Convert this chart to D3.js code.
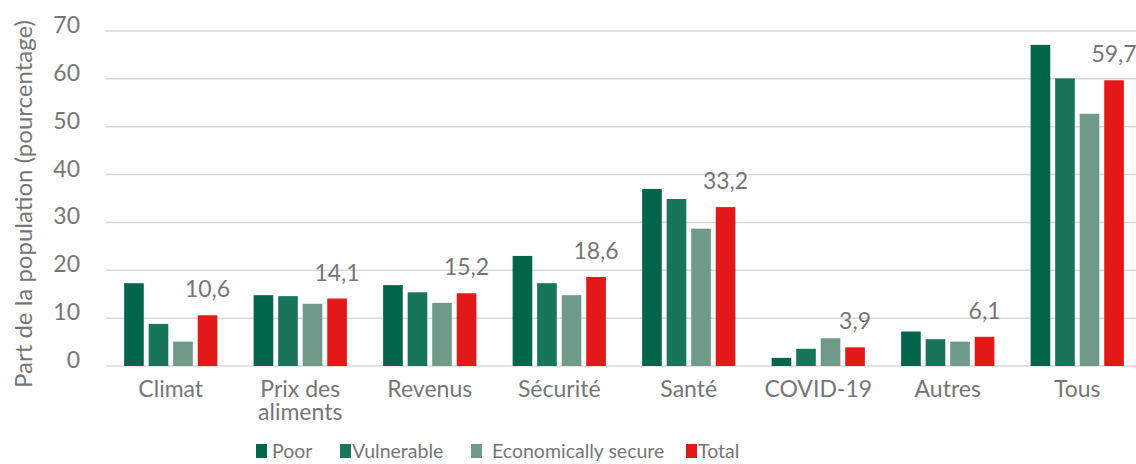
<!DOCTYPE html>
<html lang="fr">
<head>
  <meta charset="UTF-8">
  <title>Part de la population</title>
  <script src="https://d3js.org/d3.v7.min.js"></script>
  <style>
    body { margin: 0; background: #fff; }
    text { font-family: Lato, "Open Sans", sans-serif; fill: #767676; }
  </style>
</head>
<body>
  <svg width="1136" height="464"></svg>

  <script>
    // Data
    const categories = ['Climat', 'Prix des|aliments', 'Revenus', 'Sécurité', 'Santé', 'COVID-19', 'Autres', 'Tous'];
    const series = ['Poor', 'Vulnerable', 'Economically secure', 'Total'];
    const poor = [17.3, 14.8, 16.9, 23.0, 37.0, 1.7, 7.2, 67.1];
    const vulnerable = [8.8, 14.6, 15.4, 17.3, 34.9, 3.6, 5.6, 60.1];
    const secure = [5.1, 13.0, 13.2, 14.8, 28.7, 5.8, 5.1, 52.7];
    const total = [10.6, 14.1, 15.2, 18.6, 33.2, 3.9, 6.1, 59.7];
    const yTicks = [0, 10, 20, 30, 40, 50, 60, 70];
    const colors = ['#00654a', '#18745a', '#6f9a88', '#e31818'];

    const values = [poor, vulnerable, secure, total];
    const svg = d3.select('svg');

    const x = d3.scaleBand().domain(categories).range([106, 1142]).paddingInner(0.28).paddingOuter(0.14);
    const xs = d3.scaleBand().domain(series).range([0, x.bandwidth()]).paddingInner(0.2);
    const y = d3.scaleLinear().domain([0, 70]).range([366, 31]);

    // gridlines
    svg.selectAll('.grid')
      .data(yTicks)
      .enter().append('line')
      .attr('x1', 106).attr('x2', 1136)
      .attr('y1', d => y(d)).attr('y2', d => y(d))
      .attr('stroke', '#d9d9d9')
      .attr('stroke-width', 1.5);

    // y tick labels (sit a little above their gridline)
    svg.selectAll('.ytick')
      .data(yTicks)
      .enter().append('text')
      .attr('x', 80)
      .attr('y', d => y(d) - 6)
      .attr('dy', '0.35em')
      .attr('text-anchor', 'end')
      .style('font-size', '23px')
      .text(d => d);

    // bars
    series.forEach((s, i) => {
      svg.selectAll('.bar' + i)
        .data(categories)
        .enter().append('rect')
        .attr('x', c => x(c) + xs(s))
        .attr('y', (c, j) => y(values[i][j]))
        .attr('width', xs.bandwidth())
        .attr('height', (c, j) => y(0) - y(values[i][j]))
        .attr('fill', colors[i]);
    });

    // labels above Total bars
    svg.selectAll('.vlabel')
      .data(categories)
      .enter().append('text')
      .attr('x', c => x(c) + xs('Total') + xs.bandwidth() / 2)
      .attr('y', (c, j) => y(total[j]) - 18)
      .attr('text-anchor', 'middle')
      .style('font-size', '23px')
      .text((c, j) => String(total[j]).replace('.', ','));

    // category labels (one text per line)
    categories.forEach(c => {
      c.split('|').forEach((t, k) => {
        svg.append('text')
          .attr('x', x(c) + x.bandwidth() / 2)
          .attr('y', 397 + k * 23)
          .attr('text-anchor', 'middle')
          .style('font-size', '23px')
          .text(t);
      });
    });

    // y axis title
    svg.append('text')
      .attr('transform', 'translate(32,204) rotate(-90)')
      .attr('text-anchor', 'middle')
      .style('font-size', '24px')
      .text('Part de la population (pourcentage)');

    // legend
    const legendX = [256, 340, 471, 686];
    const legendTextX = [272, 352, 492, 698];
    series.forEach((s, i) => {
      svg.append('rect')
        .attr('x', legendX[i]).attr('y', 444)
        .attr('width', 11).attr('height', 14)
        .attr('fill', colors[i]);
      svg.append('text')
        .attr('x', legendTextX[i])
        .attr('y', 451)
        .attr('dy', '0.35em')
        .style('font-size', '19.5px')
        .text(s);
    });
  </script>
</body>
</html>
